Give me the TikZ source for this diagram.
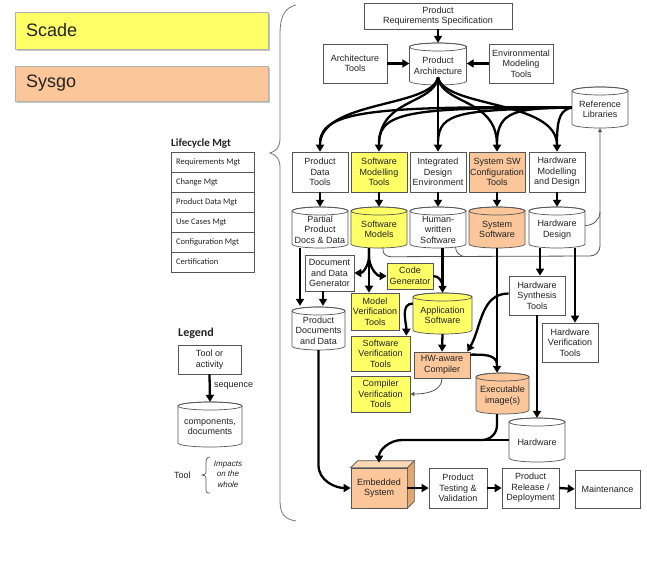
\documentclass[tikz,border=0pt]{standalone}
\usepackage{fontspec}
\setmainfont{Liberation Sans}
\newfontfamily\carl{Carlito}
\usetikzlibrary{arrows.meta,calc}
\definecolor{scy}{HTML}{FFFF66}
\definecolor{sco}{HTML}{FAC69A}
\definecolor{scoside}{HTML}{E0A774}
\definecolor{scotop}{HTML}{FCD7B4}
\definecolor{bord}{HTML}{555555}
\definecolor{txtc}{HTML}{222222}
\newcommand\bfs{\fontsize{9}{10.5}\selectfont}
\tikzset{
  txt/.style={align=center,font=\bfs,text=txtc,inner sep=0pt},
  box/.style={draw=bord,line width=0.7pt,fill=white,align=center,font=\bfs,text=txtc,inner sep=0.5pt},
  cylline/.style={draw=bord,line width=0.7pt},
  arr/.style={draw=black,line width=2.3pt,line join=round,-{Triangle[length=7pt,width=8pt]}},
  thk/.style={draw=black,line width=2.3pt,line join=round},
  thinarr/.style={draw=bord,line width=0.8pt,-{Triangle[length=4pt,width=4pt]}},
  thinln/.style={draw=bord,line width=0.8pt},
}
\newcommand\mycyl[7]{%
  \filldraw[cylline,fill=#6] ({#2-#4/2},{#3+#5/2-4}) -- ({#2-#4/2},{#3-#5/2+4})
     arc[start angle=180,end angle=360,x radius={#4/2},y radius=4]
     -- ({#2+#4/2},{#3+#5/2-4})
     arc[start angle=0,end angle=180,x radius={#4/2},y radius=4] -- cycle;
  \draw[cylline] (#2,{#3+#5/2-4}) ellipse[x radius={#4/2},y radius=4];
  \node[inner sep=0pt,minimum width=#4pt,minimum height=#5pt] (#1) at (#2,#3) {};
  \node[txt] at (#2,{#3-2}) {#7};
}
\begin{document}
\begin{tikzpicture}[x=1pt,y=1pt]
\useasboundingbox (0,0) rectangle (647,-584);
% Scade / Sysgo
\fill[gray!45] (17,-14) rectangle (270,-51);
\filldraw[draw=gray!60,fill=scy] (15,-12) rectangle (268,-49);
\node[anchor=west,font=\fontsize{18}{20}\selectfont,text=txtc,inner sep=0pt] (scade) at (26,-30.5) {Scade};
\fill[gray!45] (17,-68) rectangle (270,-103);
\filldraw[draw=gray!60,fill=sco] (15,-66) rectangle (268,-101);
\node[anchor=west,font=\fontsize{18}{20}\selectfont,text=txtc,inner sep=0pt] (sysgo) at (26,-83.5) {Sysgo};
% big brace
\draw[bord!80,line width=0.8pt] (296,-5) .. controls (285,-8) and (280,-15) .. (280,-35) -- (280,-138)
  .. controls (280,-148) and (276,-151) .. (270,-153) .. controls (276,-155) and (280,-158) .. (280,-168)
  -- (280,-500) .. controls (280,-515) and (285,-519) .. (296,-521);
% Lifecycle
\node[anchor=west,font=\carl\bfseries\fontsize{11}{12}\selectfont,inner sep=0pt,text=txtc] (lctitle) at (171,-144) {Lifecycle Mgt};
\foreach \i/\t in {0/Requirements Mgt,1/Change Mgt,2/Product Data Mgt,3/Use Cases Mgt,4/Configuration Mgt,5/Certification}{
  \draw[bord,line width=0.7pt] (171,{-152-20*\i}) rectangle (254,{-172-20*\i});
  \node[anchor=west,font=\carl\fontsize{8.5}{9}\selectfont,inner sep=0pt,text=txtc] (lc\i) at (176,{-162-20*\i}) {\t};
}
% Legend
\node[anchor=west,font=\carl\bfseries\fontsize{12}{13}\selectfont,inner sep=0pt,text=txtc] (legtitle) at (178,-333) {Legend};
\node[box,minimum width=63pt,minimum height=29pt] (LT) at (209.5,-359.5) {Tool or\\activity};
\mycyl{LC}{210}{-424.5}{64}{45}{white}{components,\\documents}
\draw[arr] (LT.south) -- (LC.north);
\node[anchor=west,font=\bfs,text=txtc,inner sep=0pt] (seq) at (214,-386) {sequence};
\node[anchor=west,font=\bfs,text=txtc,inner sep=0pt] (tooll) at (174,-475) {Tool};
\draw[bord,line width=0.7pt] (210,-457) .. controls (206,-457) and (206,-460) .. (206,-465) -- (206,-470)
  .. controls (206,-474) .. (202,-475) .. controls (206,-476) .. (206,-480) -- (206,-488)
  .. controls (206,-492) and (206,-493) .. (210,-493);
\node[align=center,font=\itshape\fontsize{8}{10.5}\selectfont,text=txtc,inner sep=0pt] (imp) at (228,-474) {Impacts\\on the\\whole};
% Top
\node[box,minimum width=148pt,minimum height=26pt] (PRS) at (438,-16) {Product\\Requirements Specification};
\node[box,minimum width=64pt,minimum height=39pt] (AT) at (355,-63.5) {Architecture\\Tools};
\node[box,minimum width=64pt,minimum height=39pt] (ENV) at (521,-63.5) {Environmental\\Modeling\\Tools};
\mycyl{PA}{438}{-64}{57}{42}{white}{Product\\Architecture}
\mycyl{RL}{600}{-107.5}{56}{41}{white}{Reference\\Libraries}
% tools row
\node[box,minimum width=56pt,minimum height=40pt] (PDT) at (320,-172) {Product\\Data\\Tools};
\node[box,fill=scy,minimum width=56pt,minimum height=40pt] (SMT) at (379,-172) {Software\\Modelling\\Tools};
\node[box,minimum width=56pt,minimum height=40pt] (IDE) at (438,-172) {Integrated\\Design\\Environment};
\node[box,fill=sco,minimum width=56pt,minimum height=40pt] (SSC) at (497,-172) {System SW\\Configuration\\Tools};
\node[box,minimum width=56pt,minimum height=40pt] (HWMD) at (557,-172) {Hardware\\Modelling\\and Design};
% cylinders row
\mycyl{PPD}{320}{-227.5}{56}{41}{white}{Partial\\Product\\Docs \& Data}
\mycyl{SM}{379}{-227.5}{56}{41}{scy}{Software\\Models}
\mycyl{HWS}{438}{-227.5}{56}{41}{white}{Human-\\written\\Software}
\mycyl{SS}{497}{-227.5}{56}{41}{sco}{System\\Software}
\mycyl{HWD}{557}{-227.5}{56}{41}{white}{Hardware\\Design}
% middle
\node[box,minimum width=49pt,minimum height=36pt] (DDG) at (329.5,-273) {Document\\and Data\\Generator};
\node[box,fill=scy,minimum width=46pt,minimum height=26pt] (CG) at (410,-276) {Code\\Generator};
\node[box,fill=scy,minimum width=48pt,minimum height=37pt] (MVT) at (375,-311.5) {Model\\Verification\\Tools};
\node[box,fill=scy,minimum width=59pt,minimum height=35pt] (SVT) at (380.5,-353.5) {Software\\Verification\\Tools};
\node[box,fill=scy,minimum width=59pt,minimum height=36pt] (CVT) at (380.5,-394) {Compiler\\Verification\\Tools};
\mycyl{PDD}{318.5}{-328.5}{53}{43}{white}{Product\\Documents\\and Data}
\mycyl{APP}{442.5}{-313.5}{59}{41}{scy}{Application\\Software}
\node[box,fill=sco,minimum width=56pt,minimum height=26pt] (HWC) at (442,-365) {HW-aware\\Compiler};
\mycyl{EXE}{502.5}{-393.5}{53}{41}{sco}{Executable\\image(s)}
\node[box,minimum width=56pt,minimum height=39pt] (HST) at (537,-295.5) {Hardware\\Synthesis\\Tools};
\node[box,minimum width=56pt,minimum height=39pt] (HVT) at (570,-342.5) {Hardware\\Verification\\Tools};
\mycyl{HW}{537}{-440}{56}{44}{white}{Hardware}
% bottom row
\node[box,fill=sco,minimum width=56pt,minimum height=40pt] (ES) at (379,-488) {};
\filldraw[draw=bord,line width=0.7pt,fill=scotop] (ES.north west) -- ++(7,7) -- ($(ES.north east)+(7,7)$) -- (ES.north east) -- cycle;
\filldraw[draw=bord,line width=0.7pt,fill=scoside] (ES.north east) -- ++(7,7) -- ($(ES.south east)+(7,7)$) -- (ES.south east) -- cycle;
\node[txt] at (ES) {Embedded\\System};
\node[box,minimum width=58pt,minimum height=40pt] (PTV) at (458,-488) {Product\\Testing \&\\Validation};
\node[box,minimum width=57pt,minimum height=40pt] (PRD) at (530.5,-488) {Product\\Release /\\Deployment};
\node[box,minimum width=65pt,minimum height=38pt] (MNT) at (607.5,-489) {Maintenance};
% ---- connectors ----
\draw[arr] (PRS.south) -- (PA.north);
\draw[arr] (AT.east) -- (AT.east -| PA.west);
\draw[arr] (ENV.west) -- (ENV.west -| PA.east);
\coordinate (pafan) at ($(PA.south)+(0,8)$);
% reference libraries lines
\draw[thk] (RL.west) .. controls (380,-106) and (322,-110) .. ($(PDT.north)+(0,10)$);
\draw[thk] (RL.west) .. controls (420,-108) and (380,-110) .. ($(SMT.north)+(0,10)$);
\draw[thk] (RL.west) .. controls (460,-110) and (439,-112) .. ($(IDE.north)+(0,10)$);
\draw[thk] (RL.west) .. controls (515,-108) and (498,-112) .. ($(SSC.north)+(0,10)$);
\draw[thk] (RL.west) .. controls (562,-110) and (557,-115) .. ($(HWMD.north)+(0,10)$);
% fan from product architecture
\draw[arr] (pafan) .. controls (432,-108) and (320,-100) .. (PDT.north);
\draw[arr] (pafan) .. controls (434,-105) and (379,-98) .. (SMT.north);
\draw[arr] (pafan) -- (IDE.north);
\draw[arr] (pafan) .. controls (442,-105) and (497,-98) .. (SSC.north);
\draw[arr] (pafan) .. controls (444,-108) and (557,-100) .. (HWMD.north);
% tools to products
\foreach \a/\b in {PDT/PPD,SMT/SM,IDE/HWS,SSC/SS,HWMD/HWD}{\draw[arr] (\a.south) -- (\b.north);}
% feedback to reference libraries
\draw[thinarr] ($(SM.south)+(4,1)$) -- ($(SM.south)+(4,-2)$) to[out=-90,in=180] ($(SM.south)+(12,-8.5)$) -- (590,-256) to[out=0,in=-90] (600,-246) -- (RL.south);
\draw[thinln] ($(HWS.south)+(17.5,1)$) to[out=-90,in=180] ($(HWS.south)+(28,-8.5)$);
\draw[thinln] ($(HWD.east)+(0,2)$) to[out=0,in=-90] (600,-212);
% left branch
\draw[arr] ($(PPD.south)+(-20,0)$) -- ($(PDD.north)+(-18.5,1)$);
\draw[arr] ($(DDG.south)+(-6.5,0)$) -- ($(PDD.north)+(4.5,1)$);
\coordinate (smstem) at ($(SM.south)+(-10,0)$);
\draw[arr] (smstem) -- ++(0,-8) to[out=-90,in=0] (DDG.east);
\draw[arr] (smstem) -- (smstem |- MVT.north);
\draw[arr] (smstem) -- ++(0,-8) to[out=-90,in=180] (CG.west);
\draw[arr] ($(HWS.south)+(4.5,0)$) -- (APP.north);
\draw[thk] (CG.east) to[out=0,in=90] ($(APP.north)+(0,6)$);
\draw[arr] ($(APP.west)+(0,10)$) to[out=180,in=90] ($(SVT.north east)+(-4,0)$);
\draw[arr] (APP.south) -- (HWC.north);
\draw[thinarr] (HWC.south) to[out=-90,in=0] (CVT.east);
\draw[arr] (SS.south) -- (SS.south |- EXE.north);
\draw[thk] ($(HWC.north east)+(0,-3)$) to[out=0,in=90] ($(SS.south |- EXE.north)+(0,8)$);
\draw[arr] ($(HST.west)+(0,2)$) to[out=180,in=60] ($(HWC.north east)+(-3,0)$);
\draw[arr] ($(HWD.south)+(-17,0)$) -- ($(HST.north)+(3,0)$);
\draw[arr] ($(HWD.south)+(18,0)$) -- ($(HVT.north)+(5,0)$);
\draw[arr] (HST.south) -- (HW.north);
\coordinate (merge) at (482,-440);
\draw[thk] (HW.west) -- (merge);
\draw[arr] ($(EXE.south)+(-5.5,0)$) -- ++(0,-11) to[out=-90,in=0] (merge) -- (402,-440) to[out=180,in=90] ($(ES.north)+(0,5)$);
\draw[arr] (PDD.south) -- ++(0,-115) to[out=-90,in=180] (ES.west);
\draw[arr] (ES.east) -- (PTV.west);
\draw[arr] (PTV.east) -- (PRD.west);
\draw[arr] (PRD.east) -- (MNT.west);
\end{tikzpicture}
\end{document}
